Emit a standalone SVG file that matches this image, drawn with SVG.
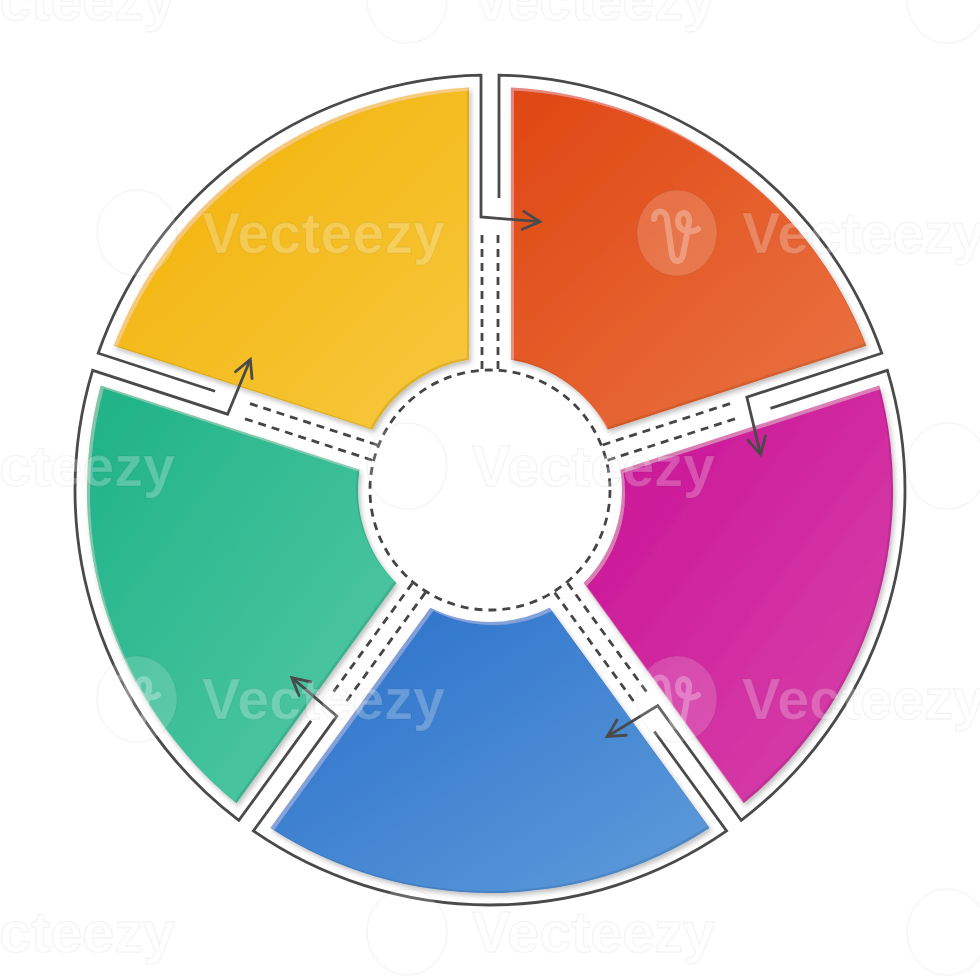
<svg xmlns="http://www.w3.org/2000/svg" xmlns:xlink="http://www.w3.org/1999/xlink" width="980" height="980" viewBox="0 0 980 980">
<style>
.outline{fill:none;stroke:#4a4a4a;stroke-width:2.8;stroke-linejoin:miter;stroke-linecap:butt}
.dash{fill:none;stroke:#454545;stroke-width:2.8;stroke-dasharray:8 6}
.seg{filter:url(#bev)}
.wmt{font-family:"Liberation Sans",Arial,sans-serif;font-weight:bold;font-size:57px;fill:#fff;fill-opacity:0.24;stroke:#000;stroke-opacity:0.045;stroke-width:1.5}
.wml{fill:#fff;fill-opacity:0.16;stroke:#000;stroke-opacity:0.04;stroke-width:1.5}
.wms{fill:none;stroke:#fff;stroke-opacity:0.28;stroke-width:6;stroke-linecap:round;stroke-linejoin:round}
</style>
<defs>
<linearGradient id="gO" x1="0" y1="0" x2="1" y2="1"><stop offset="0" stop-color="#DF4612"/><stop offset="1" stop-color="#EA7544"/></linearGradient>
<linearGradient id="gM" x1="0" y1="0" x2="1" y2="1"><stop offset="0" stop-color="#C90F95"/><stop offset="1" stop-color="#D845AB"/></linearGradient>
<linearGradient id="gB" x1="0" y1="0" x2="1" y2="1"><stop offset="0" stop-color="#276FCA"/><stop offset="1" stop-color="#609CDA"/></linearGradient>
<linearGradient id="gG" x1="0" y1="0" x2="1" y2="1"><stop offset="0" stop-color="#1EB286"/><stop offset="1" stop-color="#56CAA6"/></linearGradient>
<linearGradient id="gY" x1="0" y1="0" x2="1" y2="1"><stop offset="0" stop-color="#F2B105"/><stop offset="1" stop-color="#F7C83E"/></linearGradient>
<filter id="bev" x="-6%" y="-6%" width="116%" height="116%">
<feOffset in="SourceAlpha" dx="2" dy="3" result="so"/>
<feGaussianBlur in="so" stdDeviation="2.5" result="sb"/>
<feFlood flood-color="#000" flood-opacity="0.25"/>
<feComposite in2="sb" operator="in" result="shadow"/>
<feOffset in="SourceAlpha" dx="-2.5" dy="-2.5" result="o1"/>
<feComposite in="SourceAlpha" in2="o1" operator="out" result="db"/>
<feFlood flood-color="#000" flood-opacity="0.2"/>
<feComposite in2="db" operator="in" result="dark"/>
<feOffset in="SourceAlpha" dx="3" dy="3" result="o2"/>
<feComposite in="SourceAlpha" in2="o2" operator="out" result="lb"/>
<feFlood flood-color="#fff" flood-opacity="0.2"/>
<feComposite in2="lb" operator="in" result="light"/>
<feMerge><feMergeNode in="shadow"/><feMergeNode in="SourceGraphic"/><feMergeNode in="dark"/><feMergeNode in="light"/></feMerge>
</filter>
<marker id="ah" viewBox="-20 -11 23 22" refX="0" refY="0" markerWidth="23" markerHeight="22" markerUnits="userSpaceOnUse" orient="auto">
<path d="M-17,-9 L0,0 L-17,9" fill="none" stroke="#4a4a4a" stroke-width="2.8" stroke-linecap="round" stroke-linejoin="miter"/>
</marker>
<g id="dl">
<line class="dash" x1="482" y1="369" x2="482" y2="233"/>
<line class="dash" x1="498" y1="369" x2="498" y2="233"/>
</g>
<g id="wm">
<ellipse class="wml" cx="-65" cy="-20" rx="40" ry="43"/>
<path class="wms" d="M-88,-34 C-88,-44 -76,-44 -75,-34 L-70,2 C-68,10 -61,10 -59,2 L-53,-30 C-51,-42 -64,-44 -64,-32 C-64,-20 -48,-20 -44,-24"/>
<text class="wmt" x="0" y="0" textLength="243" lengthAdjust="spacingAndGlyphs">Vecteezy</text>
</g>
</defs>
<rect width="980" height="980" fill="#fff"/>

<g id="hub">
<circle class="dash" cx="490" cy="490" r="120"/>
<use xlink:href="#dl"/>
<use xlink:href="#dl" transform="rotate(72 490 490)"/>
<use xlink:href="#dl" transform="rotate(144 490 490)"/>
<use xlink:href="#dl" transform="rotate(216 490 490)"/>
<use xlink:href="#dl" transform="rotate(288 490 490)"/>
</g>

<g id="seg-orange" class="seg">
<path fill="url(#gO)" d="M510.98,359.65 L510.93,87.5 A403,403 0 0 1 866.33,345.72 L607.48,429.77 A132,132 0 0 0 510.98,359.65 Z"/>
</g>
<g id="seg-magenta" class="seg">
<path fill="url(#gM)" d="M620.45,469.68 L879.27,385.53 A403,403 0 0 1 743.51,803.33 L583.59,583.12 A132,132 0 0 0 620.45,469.68 Z"/>
</g>
<g id="seg-blue" class="seg">
<path fill="url(#gB)" d="M549.64,607.78 L709.65,827.93 A403,403 0 0 1 270.35,827.93 L430.36,607.78 A132,132 0 0 0 549.64,607.78 Z"/>
</g>
<g id="seg-green" class="seg">
<path fill="url(#gG)" d="M396.41,583.12 L236.49,803.33 A403,403 0 0 1 100.73,385.53 L359.55,469.68 A132,132 0 0 0 396.41,583.12 Z"/>
</g>
<g id="seg-yellow" class="seg">
<path fill="url(#gY)" d="M372.52,429.77 L113.67,345.72 A403,403 0 0 1 469.07,87.5 L469.02,359.65 A132,132 0 0 0 372.52,429.77 Z"/>
</g>

<g id="connectors">
<path class="outline" marker-end="url(#ah)" d="M499,198 L499,75.1 A415,415 0 0 1 881.81,353.23 L746.86,397.08 L760.62,454.64"/>
<path class="outline" marker-end="url(#ah)" d="M770.49,408.33 L887.37,370.35 A415,415 0 0 1 741.15,820.37 L657.75,705.57 L607.25,736.45"/>
<path class="outline" marker-end="url(#ah)" d="M654.35,731.52 L726.59,830.95 A415,415 0 0 1 253.41,830.95 L336.81,716.15 L291.85,677.67"/>
<path class="outline" marker-end="url(#ah)" d="M311.09,720.94 L238.85,820.37 A415,415 0 0 1 92.63,370.35 L227.58,414.2 L250.28,359.54"/>
<path class="outline" marker-end="url(#ah)" d="M215.07,391.21 L98.19,353.23 A415,415 0 0 1 481,75.1 L481,217 L540,221.7"/>
</g>

<g id="watermark">
<use xlink:href="#wm" x="-68" y="20"/>
<use xlink:href="#wm" x="472" y="20"/>
<use xlink:href="#wm" x="1012" y="20"/>
<use xlink:href="#wm" x="202" y="253"/>
<use xlink:href="#wm" x="742" y="253"/>
<use xlink:href="#wm" x="-68" y="486"/>
<use xlink:href="#wm" x="472" y="486"/>
<use xlink:href="#wm" x="1012" y="486"/>
<use xlink:href="#wm" x="202" y="719"/>
<use xlink:href="#wm" x="742" y="719"/>
<use xlink:href="#wm" x="-68" y="952"/>
<use xlink:href="#wm" x="472" y="952"/>
<use xlink:href="#wm" x="1012" y="952"/>
</g>
</svg>
